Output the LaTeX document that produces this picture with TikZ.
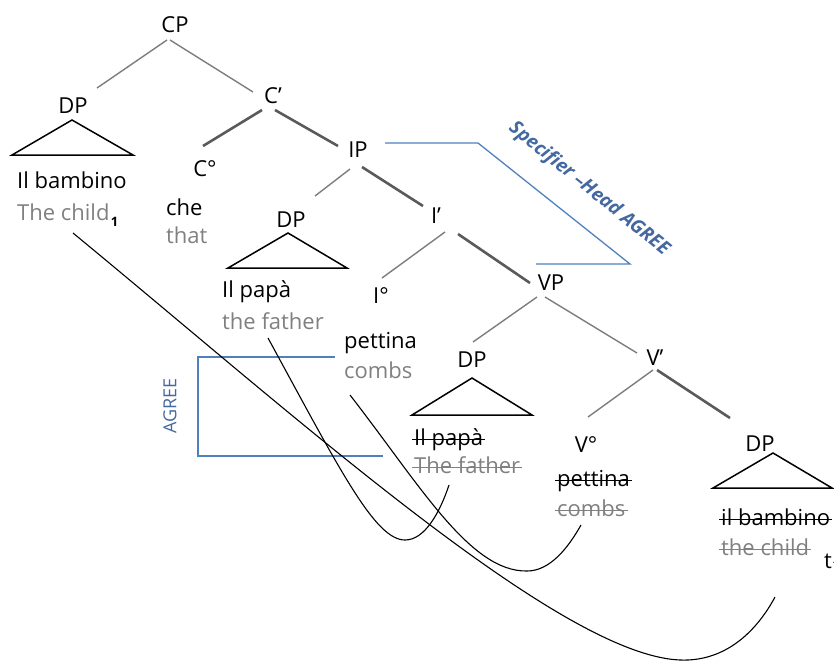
\documentclass[tikz,border=0pt]{standalone}
\usepackage{fontspec}
\setmainfont{Open Sans}
\definecolor{gloss}{RGB}{128,128,128}
\definecolor{agr}{RGB}{79,129,189}
\definecolor{agrtxt}{RGB}{68,104,160}
\definecolor{branch}{RGB}{125,125,125}
\definecolor{branchdk}{RGB}{90,90,90}
\begin{document}
\begin{tikzpicture}[x=1pt,y=-1pt,
  every node/.style={inner sep=0pt,font=\fontsize{22}{26}\selectfont},
  lab/.style={anchor=base},
  txt/.style={anchor=base west},
  gl/.style={anchor=base west,text=gloss},
  br/.style={draw=branch,line width=1.4pt},
  brk/.style={draw=branchdk,line width=2.6pt},
  tri/.style={draw=black,line width=1.5pt,line join=miter},
  strk/.style={draw=black,line width=1.2pt,shorten <=-2pt,shorten >=-2pt},
  strkg/.style={draw=gloss,line width=1.2pt,shorten <=-2pt,shorten >=-2pt},
  mv/.style={draw=black,line width=1.1pt},
  bl/.style={draw=agr,line width=1.3pt}]
\useasboundingbox (0,0) rectangle (834,662);

% labels
\node[lab] (cp) at (175,32) {CP};
\node[lab] (cbar) at (273,103) {C’};
\node[lab] (dpa) at (73,113) {DP};
\node[txt] (ilb) at (17,188) {Il bambino};
\node[gl] (thechild) at (17,220) {The child};
\node[anchor=base west,font=\fontsize{13}{15}\selectfont\bfseries] (subone) at ([xshift=1pt,yshift=-6pt]thechild.base east) {1};
\node[lab] (czero) at (205,176) {C°};
\node[txt] (che) at (166,215) {che};
\node[gl] (that) at (166,243) {that};
\node[lab] (ip) at (358,157) {IP};
\node[lab] (dpb) at (291,227) {DP};
\node[txt] (ilp) at (222,297) {Il papà};
\node[gl] (thef) at (222,329) {the father};
\node[lab] (ibar) at (436,223) {I’};
\node[lab] (izero) at (381,303) {I°};
\node[txt] (pet) at (344,348) {pettina};
\node[gl] (combs) at (344,378) {combs};
\node[lab] (vp) at (551,290) {VP};
\node[lab] (dpc) at (472,367) {DP};
\node[txt] (ilpb) at (414,445) {Il papà};
\node[gl] (thefb) at (414,473) {The father};
\node[lab] (vbar) at (655,365) {V’};
\node[lab] (vzero) at (586,452) {V°};
\node[txt] (petb) at (557,486) {pettina};
\node[gl] (combsb) at (557,516) {combs};
\node[lab] (dpd) at (760,451) {DP};
\node[txt] (ilbb) at (721,525) {il bambino};
\node[gl] (thechildb) at (721,555) {the child};
\node[txt] (trace) at (824,568) {t\textsubscript{1}};

% strike-throughs
\draw[strk] ([yshift=5.5pt]ilpb.base west) -- ([yshift=5.5pt]ilpb.base east);
\draw[strkg] ([yshift=5.5pt]thefb.base west) -- ([yshift=5.5pt]thefb.base east);
\draw[strk] ([yshift=5.5pt]petb.base west) -- ([yshift=5.5pt]petb.base east);
\draw[strkg] ([yshift=5.5pt]combsb.base west) -- ([yshift=5.5pt]combsb.base east);
\draw[strk] ([yshift=5.5pt]ilbb.base west) -- ([yshift=5.5pt]ilbb.base east);
\draw[strkg] ([yshift=5.5pt]thechildb.base west) -- ([yshift=5.5pt]thechildb.base east);

% branch end points
\coordinate (cpL) at (167,40);  \coordinate (dpaT) at (97,88);
\coordinate (cpR) at (170,40);  \coordinate (cbarT) at (253,92);
\coordinate (cbarL) at (262,110); \coordinate (czeroT) at (203,146);
\coordinate (cbarR) at (275,110); \coordinate (ipT) at (338,146);
\coordinate (ipL) at (350,169); \coordinate (dpbT) at (315,196);
\coordinate (ipR) at (362,167); \coordinate (ibarT) at (423,206);
\coordinate (ibarL) at (445,232); \coordinate (izeroT) at (382,278);
\coordinate (ibarR) at (458,234); \coordinate (vpT) at (530,283);
\coordinate (vpL) at (537,297); \coordinate (dpcT) at (473,342);
\coordinate (vpR) at (545,297); \coordinate (vbarT) at (637,353);
\coordinate (vbarL) at (653,370); \coordinate (vzeroT) at (588,417);
\coordinate (vbarR) at (657,370); \coordinate (dpdT) at (730,418);

\draw[br] (cpL) -- (dpaT);
\draw[br] (cpR) -- (cbarT);
\draw[brk] (cbarL) -- (czeroT);
\draw[brk] (cbarR) -- (ipT);
\draw[br] (ipL) -- (dpbT);
\draw[brk] (ipR) -- (ibarT);
\draw[br] (ibarL) -- (izeroT);
\draw[brk] (ibarR) -- (vpT);
\draw[br] (vpL) -- (dpcT);
\draw[br] (vpR) -- (vbarT);
\draw[br] (vbarL) -- (vzeroT);
\draw[brk] (vbarR) -- (dpdT);

% triangles
\draw[tri] (72,120) -- (12,155) -- (133,155) -- cycle;
\draw[tri] (288,233) -- (228,268) -- (347,268) -- cycle;
\draw[tri] (472,378) -- (412,415) -- (532,415) -- cycle;
\draw[tri] (773,453) -- (713,488) -- (832,488) -- cycle;

% agreement brackets
\coordinate (shA) at (385,143); \coordinate (shB) at (478,143);
\coordinate (shC) at (630,264); \coordinate (shD) at (536,264);
\draw[bl] (shA) -- (shB) -- (shC) -- (shD);
\node[rotate=-39,font=\fontsize{19}{21}\selectfont\bfseries\itshape,text=agrtxt] (shtext) at (589,189) {Specifier –Head AGREE};
\coordinate (agA) at (335,357); \coordinate (agB) at (198,357);
\coordinate (agC) at (198,456); \coordinate (agD) at (383,456);
\draw[bl] (agA) -- (agB) -- (agC) -- (agD);
\node[rotate=90,font=\fontsize{18}{20}\selectfont,text=agrtxt] (agtext) at (170,406) {AGREE};

% movement lines
\coordinate (m1a) at (73,233); \coordinate (m1b) at (680,660); \coordinate (m1c) at (775,597);
\draw[mv] (m1a) .. controls (300,420) and (560,655) .. (m1b) .. controls (730,662) and (760,625) .. (m1c);
\coordinate (m2a) at (268,338); \coordinate (m2b) at (405,540); \coordinate (m2c) at (449,485);
\draw[mv] (m2a) .. controls (340,470) and (375,540) .. (m2b) .. controls (425,540) and (440,512) .. (m2c);
\coordinate (m3a) at (350,395); \coordinate (m3b) at (527,571); \coordinate (m3c) at (581,525);
\draw[mv] (m3a) .. controls (420,485) and (470,572) .. (m3b) .. controls (550,571) and (568,548) .. (m3c);
\end{tikzpicture}
\end{document}
